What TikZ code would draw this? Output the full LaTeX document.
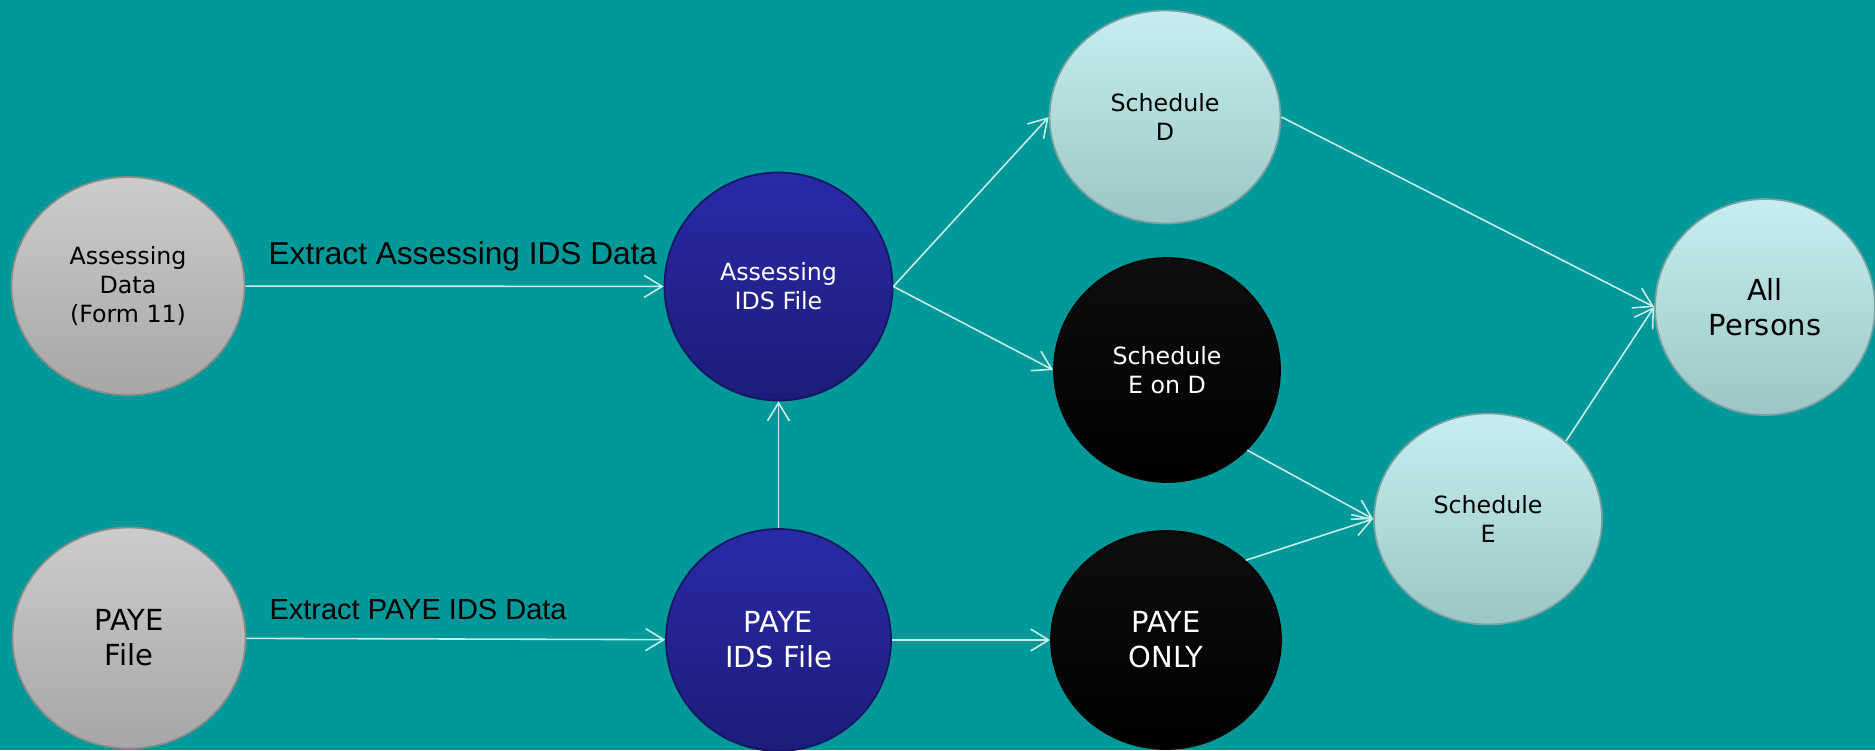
\documentclass[tikz,border=0pt]{standalone}
\usepackage{fontspec}
\usetikzlibrary{shapes.geometric,arrows.meta}
\newfontfamily\nodefont{DejaVu Sans}
\newfontfamily\labelfont{Liberation Sans}
\definecolor{bgteal}{RGB}{0,152,152}
\definecolor{greytop}{RGB}{204,204,204}
\definecolor{greybot}{RGB}{166,166,166}
\definecolor{greyrim}{RGB}{140,140,140}
\definecolor{bluetop}{RGB}{42,42,168}
\definecolor{bluebot}{RGB}{28,28,122}
\definecolor{bluerim}{RGB}{22,22,100}
\definecolor{blacktop}{RGB}{14,14,14}
\definecolor{blackbot}{RGB}{0,0,0}
\definecolor{cyantop}{RGB}{198,238,240}
\definecolor{cyanbot}{RGB}{156,198,198}
\definecolor{cyanrim}{RGB}{120,160,160}
\definecolor{arrowcol}{RGB}{200,238,234}
\begin{document}
\begin{tikzpicture}[
    bubble/.style={ellipse, inner sep=0pt, align=center, line width=1pt},
    greybubble/.style={bubble, top color=greytop, bottom color=greybot, draw=greyrim},
    bluebubble/.style={bubble, top color=bluetop, bottom color=bluebot, draw=bluerim, text=white},
    blackbubble/.style={bubble, top color=blacktop, bottom color=blackbot, draw=black, text=white},
    cyanbubble/.style={bubble, top color=cyantop, bottom color=cyanbot, draw=cyanrim},
    smalltext/.style={font=\nodefont\fontsize{13.5}{16.5}\selectfont},
    bigtext/.style={font=\nodefont\fontsize{16.5}{20}\selectfont},
    flow/.style={draw=arrowcol, line width=0.9pt, -{Straight Barb[length=3.6mm,width=4.4mm]}},
    flowlabel/.style={font=\labelfont, inner sep=0pt}
  ]
      \fill[bgteal] (0,0) rectangle (37.5,15);
      \useasboundingbox (0,0) rectangle (37.5,15);

      \node[greybubble, smalltext, minimum width=4.66cm, minimum height=4.36cm] (asd) at (2.56,9.28) {Assessing\\Data\\(Form 11)};
      \node[greybubble, bigtext, minimum width=4.66cm, minimum height=4.42cm] (pf) at (2.58,2.24) {PAYE\\File};

      \node[bluebubble, smalltext, minimum width=4.56cm, minimum height=4.56cm] (asid) at (15.57,9.27) {Assessing\\IDS File};
      \node[bluebubble, bigtext, minimum width=4.5cm, minimum height=4.44cm] (pid) at (15.57,2.2) {PAYE\\IDS File};

      \node[cyanbubble, smalltext, minimum width=4.62cm, minimum height=4.26cm] (sd) at (23.3,12.66) {Schedule\\D};
      \node[blackbubble, smalltext, minimum width=4.52cm, minimum height=4.48cm] (seod) at (23.34,7.6) {Schedule\\E on D};
      \node[blackbubble, bigtext, minimum width=4.6cm, minimum height=4.36cm] (po) at (23.32,2.2) {PAYE\\ONLY};

      \node[cyanbubble, smalltext, minimum width=4.56cm, minimum height=4.22cm] (se) at (29.76,4.62) {Schedule\\E};
      \node[cyanbubble, bigtext, minimum width=4.4cm, minimum height=4.32cm] (ap) at (35.3,8.86) {All\\Persons};

      \draw[flow] (asd) -- node[flowlabel, pos=0.52, above=8pt] {\fontsize{18}{21}\selectfont Extract Assessing IDS Data} (asid);
      \draw[flow] (pf) -- node[flowlabel, pos=0.41, above=10.5pt] {\fontsize{16.5}{19}\selectfont Extract PAYE IDS Data} (pid);
      \draw[flow] (pid) -- (asid);

      \draw[flow] (asid.east) -- (sd.west);
      \draw[flow] (asid.east) -- (seod.west);
      \draw[flow] (pid) -- (po);

      \draw[flow] (sd.east) -- (ap.west);
      \draw[flow] (seod.-45) -- (se.west);
      \draw[flow] (po.45) -- (se.west);
      \draw[flow] (se.45) -- (ap.west);
\end{tikzpicture}
\end{document}
